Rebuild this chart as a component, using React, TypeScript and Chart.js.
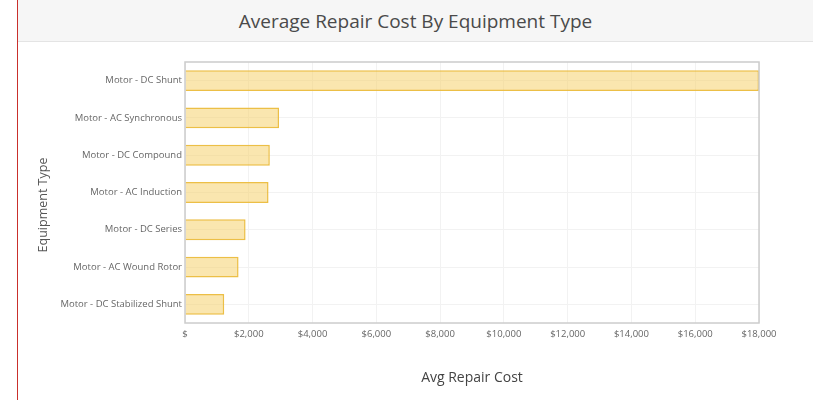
import React, { useEffect, useRef } from "react";
import { Chart, registerables } from "chart.js";

Chart.register(...registerables);

const categories = [
  "Motor - DC Shunt",
  "Motor - AC Synchronous",
  "Motor - DC Compound",
  "Motor - AC Induction",
  "Motor - DC Series",
  "Motor - AC Wound Rotor",
  "Motor - DC Stabilized Shunt",
];
const avgRepairCost = [18000, 2950, 2660, 2620, 1900, 1680, 1230];

const chartTitle = "Average Repair Cost By Equipment Type";
const xTitle = "Avg Repair Cost";
const yTitle = "Equipment Type";

const FONT = "'Open Sans', 'Noto Sans', sans-serif";

const frameAndTitlePlugin = {
  id: "frameAndTitle",
  afterDraw(chart: any) {
    const { ctx, chartArea } = chart;
    ctx.save();
    ctx.strokeStyle = "#cccccc";
    ctx.lineWidth = 1.5;
    ctx.strokeRect(chartArea.left, chartArea.top, chartArea.right - chartArea.left, chartArea.bottom - chartArea.top);
    ctx.translate(25, 163);
    ctx.rotate(-Math.PI / 2);
    ctx.fillStyle = "#555555";
    ctx.font = `12.5px ${FONT}`;
    ctx.textAlign = "center";
    ctx.textBaseline = "middle";
    ctx.fillText(yTitle, 0, 0);
    ctx.restore();
  },
};

export default function App() {
  const ref = useRef<HTMLCanvasElement>(null);
  useEffect(() => {
    document.body.style.margin = "0";
    const chart = new Chart(ref.current as HTMLCanvasElement, {
      type: "bar",
      data: {
        labels: categories,
        datasets: [
          {
            label: xTitle,
            data: avgRepairCost,
            backgroundColor: "rgba(245, 210, 110, 0.55)",
            borderColor: "rgba(235, 188, 60, 0.95)",
            borderWidth: 1.5,
            barPercentage: 0.56,
            categoryPercentage: 1,
          },
        ],
      },
      options: {
        indexAxis: "y",
        animation: false,
        responsive: true,
        maintainAspectRatio: false,
        layout: { padding: { left: 0, right: 54, top: 20, bottom: 0 } },
        plugins: { legend: { display: false }, tooltip: { enabled: false } },
        scales: {
          x: {
            min: 0,
            max: 18000,
            border: { display: false },
            grid: { color: "#f2f2f2", drawTicks: false },
            ticks: {
              stepSize: 2000,
              padding: 6,
              color: "#666666",
              font: { family: FONT, size: 9.5 },
              callback: (v: any) => (Number(v) === 0 ? "$" : "$" + Number(v).toLocaleString("en-US")),
            },
            title: {
              display: true,
              text: xTitle,
              color: "#444444",
              font: { family: FONT, size: 14 },
              padding: { top: 0, bottom: 14 },
            },
            afterFit: (s: any) => {
              s.height = 77;
            },
          },
          y: {
            border: { display: false },
            grid: { color: "#f2f2f2", drawTicks: false, offset: false },
            ticks: {
              padding: 3,
              color: "#666666",
              font: { family: FONT, size: 9.5 },
            },
            afterFit: (s: any) => {
              s.width = 167;
            },
          },
        },
      },
      plugins: [frameAndTitlePlugin],
    });
    return () => chart.destroy();
  }, []);

  return (
    <div style={{ position: "relative", width: 813, height: 400, background: "#ffffff", overflow: "hidden" }}>
      <div
        style={{
          position: "absolute",
          left: 18,
          top: 0,
          width: 795,
          height: 41,
          background: "#f6f6f6",
          borderBottom: "1px solid #e4e4e4",
          display: "flex",
          alignItems: "center",
          justifyContent: "center",
          fontFamily: FONT,
          fontSize: 19,
          color: "#4a4a4a",
        }}
      >
        {chartTitle}
      </div>
      <div style={{ position: "absolute", left: 17, top: 0, width: 1, height: 400, background: "#c9302c" }} />
      <div style={{ position: "absolute", left: 18, top: 42, width: 795, height: 358 }}>
        <canvas ref={ref} />
      </div>
    </div>
  );
}
